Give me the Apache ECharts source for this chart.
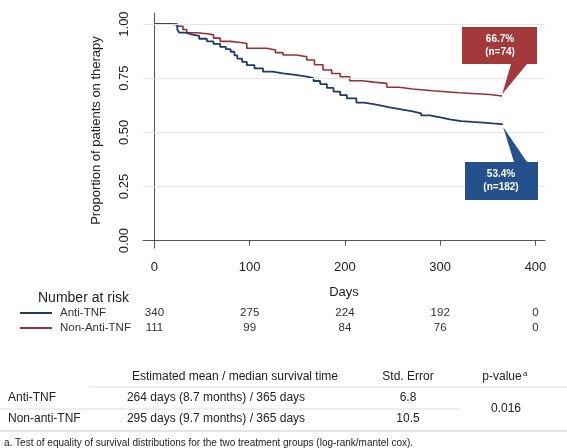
<!DOCTYPE html>
<html>
<head>
<meta charset="utf-8">
<script src="https://cdn.jsdelivr.net/npm/echarts@6/dist/echarts.min.js"></script>
<style>
  html, body { margin: 0; padding: 0; background: #fff; }
  #main { width: 567px; height: 448px; }
</style>
</head>
<body>
<div id="main"></div>
<script>
// 生存曲线数据 (天, 比例)
var antiTnf = [[0, 1], [18, 0.997], [24, 0.975], [26, 0.96], [33, 0.952], [39, 0.945], [47, 0.932], [55, 0.92],
  [62, 0.908], [69, 0.895], [75, 0.884], [80, 0.872], [84, 0.855], [87, 0.84], [92, 0.825], [97, 0.81], [105, 0.795],
  [114, 0.78], [124, 0.772], [135, 0.765], [148, 0.757], [160, 0.75], [167, 0.737], [174, 0.723], [181, 0.705],
  [188, 0.688], [195, 0.672], [202, 0.657], [212, 0.637], [220, 0.63], [230, 0.623], [238, 0.615], [247, 0.606],
  [259, 0.597], [271, 0.588], [280, 0.578], [289, 0.569], [300, 0.56], [310, 0.552], [322, 0.548], [334, 0.545],
  [345, 0.541], [355, 0.538], [365, 0.534]]
var nonAntiTnf = [[0, 1], [24, 0.99], [30, 0.975], [34, 0.96], [45, 0.955], [55, 0.95], [62, 0.935], [69, 0.92],
  [80, 0.915], [90, 0.91], [97, 0.888], [118, 0.88], [127, 0.868], [135, 0.857], [149, 0.849], [160, 0.834],
  [168, 0.812], [177, 0.788], [186, 0.772], [195, 0.757], [205, 0.738], [218, 0.732], [230, 0.726], [244, 0.708],
  [257, 0.7], [271, 0.692], [292, 0.683], [320, 0.675], [352, 0.668], [365, 0.667]]

var xTicks = [0, 100, 200, 300, 400]
var yTicks = [0, 0.25, 0.5, 0.75, 1]
var riskAnti = [340, 275, 224, 192, 0]
var riskNon = [111, 99, 84, 76, 0]

var blue = '#1f3a64'
var red = '#983034'
var font = 'Liberation Sans, Arial, sans-serif'

var myChart = echarts.init(document.getElementById('main'))

var option = {
  animation: false,
  grid: { left: 143, right: 22, top: 13, bottom: 200 },
  xAxis: {
    type: 'value', min: -12, max: 410,
    name: 'Days', nameLocation: 'middle', nameGap: 38,
    nameTextStyle: { fontSize: 13, color: '#222', fontFamily: font },
    axisLine: { show: true, lineStyle: { color: '#555' } },
    axisTick: { show: true, customValues: xTicks, length: 5, lineStyle: { color: '#555' } },
    axisLabel: { customValues: xTicks, fontSize: 13, color: '#222', fontFamily: font, margin: 13 },
    splitLine: { show: false }
  },
  yAxis: {
    type: 'value', min: -0.034, max: 1.051,
    name: 'Proportion of patients on therapy', nameLocation: 'middle', nameGap: 40,
    nameTextStyle: { fontSize: 13, color: '#222', fontFamily: font },
    axisLine: { show: true, lineStyle: { color: '#555' } },
    axisTick: { show: true, customValues: yTicks, length: 5, lineStyle: { color: '#555' } },
    axisLabel: { customValues: yTicks, rotate: 90, fontSize: 13, color: '#222', fontFamily: font, margin: 12,
      formatter: function (v) { return v.toFixed(2) } },
    splitLine: { show: false }
  },
  series: [
    {
      name: 'Non-Anti-TNF', type: 'line', step: 'end', data: nonAntiTnf, showSymbol: false,
      lineStyle: { color: red, width: 1.6 }, z: 3
    },
    {
      name: 'Anti-TNF', type: 'line', step: 'end', data: antiTnf, showSymbol: false,
      lineStyle: { color: blue, width: 1.8 }, z: 4,
      // 网格线
      markLine: {
        silent: true, symbol: 'none', label: { show: false },
        lineStyle: { color: '#e6e6e6', type: 'solid', width: 1 },
        data: [{ yAxis: 0.25 }, { yAxis: 0.5 }, { yAxis: 0.75 }, { yAxis: 1 }]
      }
    }
  ]
}
myChart.setOption(option)

// 标注框与表格
function px(x, y) { return myChart.convertToPixel({ gridIndex: 0 }, [x, y]) }
var g = []
var redEnd = px(365, 0.667), blueEnd = px(365, 0.534)

g.push({ type: 'polygon', shape: { points: [[462, 27], [537, 27], [537, 64], [527, 64], [redEnd[0], redEnd[1] - 2], [511, 64], [462, 64]] },
  style: { fill: '#a3393b' }, z: 10 })
g.push({ type: 'text', x: 500, y: 46, style: { text: '66.7%\n(n=74)', fill: '#fff', font: 'bold 10px ' + font, align: 'center', verticalAlign: 'middle', lineHeight: 13 }, z: 11 })
g.push({ type: 'polygon', shape: { points: [[465, 162], [538, 162], [538, 200], [465, 200], [465, 162], [514, 162], [blueEnd[0] + 1, blueEnd[1] + 2], [527, 162]] },
  style: { fill: '#24508c' }, z: 10 })
g.push({ type: 'text', x: 501, y: 181, style: { text: '53.4%\n(n=182)', fill: '#fff', font: 'bold 10px ' + font, align: 'center', verticalAlign: 'middle', lineHeight: 13 }, z: 11 })

// Number at risk
g.push({ type: 'text', x: 38, y: 298, style: { text: 'Number at risk', fill: '#222', font: '14px ' + font, verticalAlign: 'middle' } })
g.push({ type: 'line', shape: { x1: 20, y1: 313, x2: 52, y2: 313 }, style: { stroke: blue, lineWidth: 2 } })
g.push({ type: 'line', shape: { x1: 20, y1: 328, x2: 52, y2: 328 }, style: { stroke: red, lineWidth: 2 } })
g.push({ type: 'text', x: 60, y: 313, style: { text: 'Anti-TNF', fill: '#333', font: '11.5px ' + font, verticalAlign: 'middle' } })
g.push({ type: 'text', x: 60, y: 328, style: { text: 'Non-Anti-TNF', fill: '#333', font: '11.5px ' + font, verticalAlign: 'middle' } })
for (var i = 0; i < xTicks.length; i++) {
  var cx = px(xTicks[i], 0)[0]
  g.push({ type: 'text', x: cx, y: 313, style: { text: String(riskAnti[i]), fill: '#333', font: '11.5px ' + font, align: 'center', verticalAlign: 'middle' } })
  g.push({ type: 'text', x: cx, y: 328, style: { text: String(riskNon[i]), fill: '#333', font: '11.5px ' + font, align: 'center', verticalAlign: 'middle' } })
}

// 下方表格
function txt(t, x, y, align, size) {
  g.push({ type: 'text', x: x, y: y, style: { text: t, fill: '#222', font: (size || 12) + 'px ' + font, align: align || 'center', verticalAlign: 'middle' } })
}
txt('Estimated mean / median survival time', 235, 377)
txt('Std. Error', 408, 377)
txt('p-value', 502, 377)
g.push({ type: 'text', x: 523, y: 374, style: { text: 'a', fill: '#222', font: '8px ' + font, verticalAlign: 'middle' } })
g.push({ type: 'line', shape: { x1: 90, y1: 387, x2: 567, y2: 387 }, style: { stroke: '#ddd', lineWidth: 1 } })
txt('Anti-TNF', 8, 398, 'left')
txt('264 days (8.7 months) / 365 days', 216, 398)
txt('6.8', 408, 398)
g.push({ type: 'line', shape: { x1: 0, y1: 409, x2: 460, y2: 409 }, style: { stroke: '#ddd', lineWidth: 1 } })
txt('Non-anti-TNF', 8, 419, 'left')
txt('295 days (9.7 months) / 365 days', 216, 419)
txt('10.5', 408, 419)
txt('0.016', 506, 409)
g.push({ type: 'line', shape: { x1: 0, y1: 431, x2: 567, y2: 431 }, style: { stroke: '#ccc', lineWidth: 1 } })
txt('a. Test of equality of survival distributions for the two treatment groups (log-rank/mantel cox).', 4, 443, 'left', 10)

myChart.setOption({ graphic: g })
</script>
</body>
</html>
